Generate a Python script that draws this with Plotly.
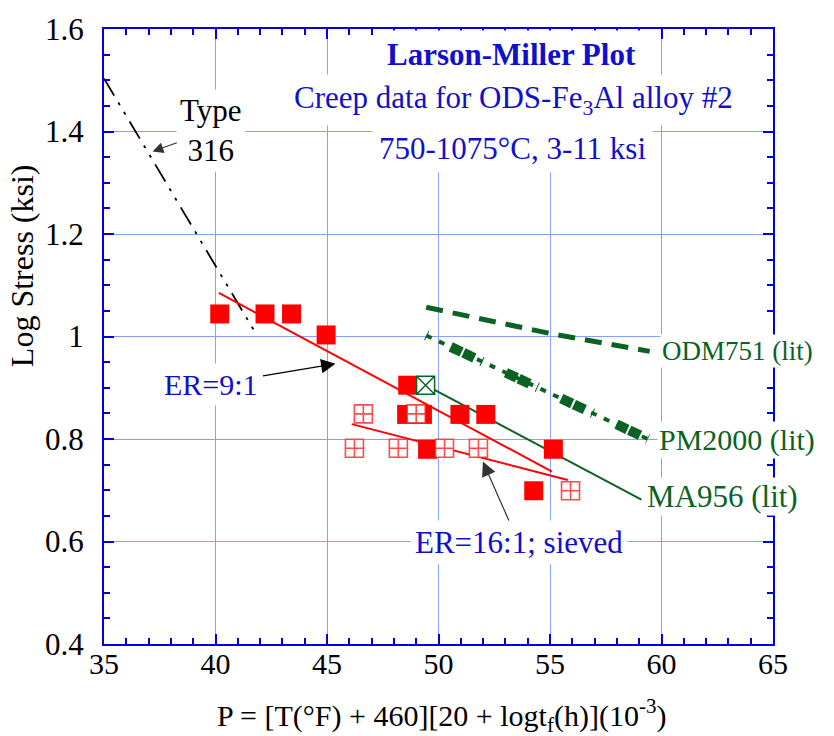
import plotly.graph_objects as go

# ---------------- data ----------------
# ER=9:1 (filled red squares)
er9_P = [40.19, 42.22, 43.41, 44.96, 48.62, 48.57, 49.28, 50.96, 52.12, 49.51, 55.15, 54.27]
er9_logS = [1.044, 1.044, 1.044, 1.003, 0.905, 0.848, 0.848, 0.848, 0.848, 0.780, 0.780, 0.699]

# ER=16:1; sieved (open crossed squares)
er16_P = [46.63, 49.0, 46.23, 48.2, 50.27, 51.79, 55.92]
er16_logS = [0.849, 0.849, 0.782, 0.782, 0.782, 0.782, 0.699]

# fit lines
er9_fit_P = [40.15, 55.09]
er9_fit_logS = [1.085, 0.7365]
er16_fit_P = [46.11, 55.8]
er16_fit_logS = [0.829, 0.720]

# literature curves
ma956_P = [49.42, 59.1]
ma956_logS = [0.905, 0.6816]
ma956_pt_P = [49.42]
ma956_pt_logS = [0.905]
odm751_P = [49.45, 55.1, 59.47]
odm751_logS = [1.057, 1.005, 0.971]
pm2000_P = [49.45, 55.06, 59.39]
pm2000_logS = [1.002, 0.889, 0.800]
type316_P = [35.0, 41.82]
type316_logS = [1.5035, 1.005]

# axes
x_tick_vals = [35, 40, 45, 50, 55, 60, 65]
x_tick_text = ["35", "40", "45", "50", "55", "60", "65"]
y_tick_vals = [0.4, 0.6, 0.8, 1.0, 1.2, 1.4, 1.6]
y_tick_text = ["0.4", "0.6", "0.8", "1", "1.2", "1.4", "1.6"]

# ---------------- styles ----------------
FONT = "Liberation Serif"
AXIS_BLUE = "#0000e6"
GRID = "#85a0ff"
TXT_BLUE = "#1010cc"
RED = "#ff0000"
OPEN_RED = "rgba(255,30,30,0.8)"
GREEN = "#0b6323"

fig = go.Figure()

# lines (below markers)
fig.add_trace(go.Scatter(x=type316_P, y=type316_logS, mode="lines",
                         line=dict(color="black", width=1.8, dash="20px,8px,3px,8px,3px,8px")))
fig.add_trace(go.Scatter(x=odm751_P, y=odm751_logS, mode="lines",
                         line=dict(color=GREEN, width=5, dash="17px,10px")))
fig.add_trace(go.Scatter(x=pm2000_P, y=pm2000_logS, mode="lines",
                         line=dict(color=GREEN, width=4, dash="6px,8px")))
fig.add_trace(go.Scatter(x=pm2000_P, y=pm2000_logS, mode="lines",
                         line=dict(color=GREEN, width=10, dash="1px,26px,12px,2px,12px,8px")))
fig.add_trace(go.Scatter(x=ma956_P, y=ma956_logS, mode="lines",
                         line=dict(color=GREEN, width=2)))
fig.add_trace(go.Scatter(x=er9_fit_P, y=er9_fit_logS, mode="lines",
                         line=dict(color=RED, width=2)))
fig.add_trace(go.Scatter(x=er16_fit_P, y=er16_fit_logS, mode="lines",
                         line=dict(color=RED, width=2)))

# markers
fig.add_trace(go.Scatter(x=er9_P, y=er9_logS, mode="markers",
                         marker=dict(symbol="square", size=19, color=RED, line=dict(width=0))))
fig.add_trace(go.Scatter(x=er16_P, y=er16_logS, mode="markers",
                         marker=dict(symbol="square-cross", size=18, color="white",
                                     line=dict(color=OPEN_RED, width=1.6))))
fig.add_trace(go.Scatter(x=ma956_pt_P, y=ma956_pt_logS, mode="markers",
                         marker=dict(symbol="square-x", size=18, color="white",
                                     line=dict(color=GREEN, width=1.5))))

ann = []
# title block
ann.append(dict(x=53.28, y=1.551, xref="x", yref="y", showarrow=False, xanchor="center", yanchor="middle",
                text="<b>Larson-Miller Plot</b>", font=dict(family=FONT, size=31, color=TXT_BLUE),
                bgcolor="white", borderpad=6))
ann.append(dict(x=53.37, y=1.462, xref="x", yref="y", showarrow=False, xanchor="center", yanchor="middle",
                text="Creep data for ODS-Fe<sub>3</sub>Al alloy #2",
                font=dict(family=FONT, size=31, color=TXT_BLUE), bgcolor="white", borderpad=5))
ann.append(dict(x=53.32, y=1.3676, xref="x", yref="y", showarrow=False, xanchor="center", yanchor="middle",
                text="750-1075°C, 3-11 ksi",
                font=dict(family=FONT, size=31, color=TXT_BLUE), bgcolor="white", borderpad=6))
# Type 316
ann.append(dict(x=37.18, y=1.361, xref="x", yref="y", ax=58.7, ay=-21.3,
                text="Type<br>316", showarrow=True, arrowhead=2, arrowsize=1.8, arrowwidth=1.2,
                arrowcolor="#333333", font=dict(family=FONT, size=31, color="black"),
                bgcolor="white", borderpad=3))
# ER=9:1
ann.append(dict(x=45.38, y=0.9468, xref="x", yref="y", ax=-124, ay=20.8,
                text="ER=9:1", showarrow=True, arrowhead=2, arrowsize=2.4, arrowwidth=1.2,
                arrowcolor="black", font=dict(family=FONT, size=30, color=TXT_BLUE),
                bgcolor="white", borderpad=4))
# ER=16:1; sieved
ann.append(dict(x=51.99, y=0.756, xref="x", yref="y", ax=35.7, ay=81,
                text="ER=16:1; sieved", showarrow=True, arrowhead=2, arrowsize=2.4, arrowwidth=1.2,
                arrowcolor="#333333", font=dict(family=FONT, size=31, color=TXT_BLUE),
                bgcolor="white", borderpad=4))
# literature labels
ann.append(dict(x=59.92, y=0.9715, xref="x", yref="y", showarrow=False, xanchor="left", yanchor="middle",
                text="ODM751 (lit)", font=dict(family=FONT, size=27, color=GREEN),
                bgcolor="white", borderpad=1))
ann.append(dict(x=59.79, y=0.7986, xref="x", yref="y", showarrow=False, xanchor="left", yanchor="middle",
                text="PM2000 (lit)", font=dict(family=FONT, size=30, color=GREEN),
                bgcolor="white", borderpad=1))
ann.append(dict(x=59.25, y=0.688, xref="x", yref="y", showarrow=False, xanchor="left", yanchor="middle",
                text="MA956 (lit)", font=dict(family=FONT, size=31, color=GREEN),
                bgcolor="white", borderpad=1))
# axis titles
ann.append(dict(x=-0.1226, y=0.616, xref="paper", yref="paper", showarrow=False,
                xanchor="center", yanchor="middle",
                text="Log Stress (ksi)", textangle=-90,
                font=dict(family=FONT, size=32, color="black")))
ann.append(dict(x=0.504, y=-0.116, xref="paper", yref="paper", showarrow=False,
                xanchor="center", yanchor="middle",
                text="P = [T(°F) + 460][20 + logt<sub>f</sub>(h)](10<sup>-3</sup>)",
                font=dict(family=FONT, size=30, color="black")))

axis_common = dict(showline=True, linecolor=AXIS_BLUE, linewidth=2, mirror="allticks",
                   ticks="inside", ticklen=10, tickwidth=1.5, tickcolor=AXIS_BLUE,
                   showgrid=True, gridcolor=GRID, gridwidth=1, zeroline=False)

fig.update_layout(
    width=834, height=736,
    margin=dict(l=104, r=61, t=24, b=92),
    paper_bgcolor="white", plot_bgcolor="white",
    showlegend=False,
    annotations=ann,
    xaxis=dict(range=[35, 65], tickmode="array", tickvals=x_tick_vals, ticktext=x_tick_text,
               minor=dict(ticks="inside", ticklen=6, dtick=1, tick0=35, tickcolor=AXIS_BLUE,
                          tickwidth=1.5, showgrid=False),
               tickfont=dict(family=FONT, size=30, color="black"),
               ticklabelstandoff=-8, **axis_common),
    yaxis=dict(range=[0.4, 1.6], tickmode="array", tickvals=y_tick_vals, ticktext=y_tick_text,
               minor=dict(ticks="inside", ticklen=6, dtick=0.05, tick0=0.4, tickcolor=AXIS_BLUE,
                          tickwidth=1.5, showgrid=False),
               tickfont=dict(family=FONT, size=31, color="black"),
               ticklabelstandoff=12, **axis_common),
)

fig.write_html("out.html")
